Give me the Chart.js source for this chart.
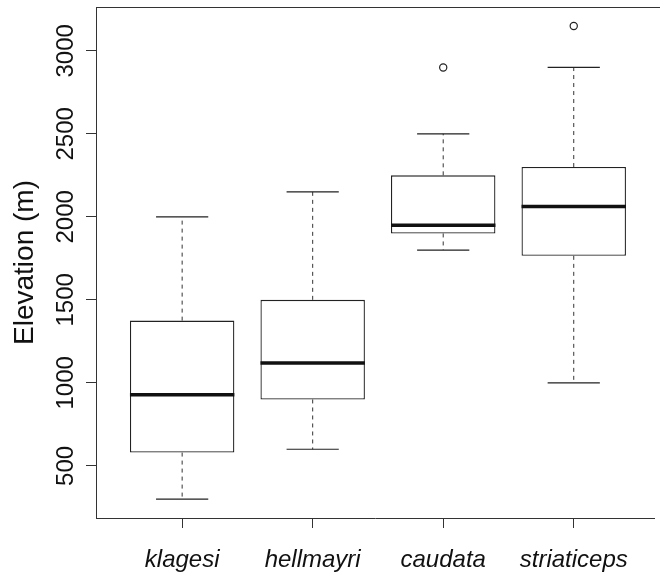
<!DOCTYPE html>
<html>
<head>
<meta charset="utf-8">
<script src="https://cdn.jsdelivr.net/npm/chart.js@4.4.1/dist/chart.umd.min.js"></script>
<style>
  html, body { margin: 0; padding: 0; background: #fff; overflow: hidden; }
  #wrap { width: 660px; height: 573px; position: relative; }
  #chart { display: block; }
</style>
</head>
<body>
<div id="wrap"><canvas id="chart"></canvas></div>
<script>
// Five-number summaries per species
const species = ['klagesi', 'hellmayri', 'caudata', 'striaticeps'];
const whiskerLow = [300, 600, 1800, 1000];
const quartile1 = [580, 900, 1900, 1765];
const medians = [928, 1120, 1950, 2062];
const quartile3 = [1375, 1500, 2250, 2300];
const whiskerHigh = [2000, 2150, 2500, 2900];
const outliers = [[], [], [2900], [3150]];
const yTicks = [500, 1000, 1500, 2000, 2500, 3000];
const yTitle = 'Elevation (m)';

const FONT = '"Liberation Sans", Arial, Helvetica, sans-serif';
const INK = '#222';

const boxplotPlugin = {
    id: 'boxplot',
    afterDatasetsDraw(chart) {
        const { ctx, chartArea, scales: { x, y } } = chart;
        ctx.save();

        // top frame line (R draws a full box)
        ctx.strokeStyle = '#333';
        ctx.lineWidth = 1;
        ctx.beginPath();
        ctx.moveTo(chartArea.left, Math.round(chartArea.top) + 0.5);
        ctx.lineTo(chart.width, Math.round(chartArea.top) + 0.5);
        ctx.stroke();

        species.forEach((name, i) => {
            const cx = x.getPixelForValue(i + 1);
            const capL = x.getPixelForValue(i + 1 - 0.2);
            const capR = x.getPixelForValue(i + 1 + 0.2);
            const boxL = x.getPixelForValue(i + 1 - 0.4);
            const boxR = x.getPixelForValue(i + 1 + 0.4);

            // dashed whiskers
            ctx.strokeStyle = '#333';
            ctx.lineWidth = 1;
            ctx.setLineDash([4, 4]);
            ctx.beginPath();
            ctx.moveTo(cx, y.getPixelForValue(quartile3[i]));
            ctx.lineTo(cx, y.getPixelForValue(whiskerHigh[i]));
            ctx.moveTo(cx, y.getPixelForValue(quartile1[i]));
            ctx.lineTo(cx, y.getPixelForValue(whiskerLow[i]));
            ctx.stroke();
            ctx.setLineDash([]);

            // staples
            ctx.strokeStyle = INK;
            ctx.lineWidth = 1.2;
            ctx.beginPath();
            ctx.moveTo(capL, y.getPixelForValue(whiskerHigh[i]));
            ctx.lineTo(capR, y.getPixelForValue(whiskerHigh[i]));
            ctx.moveTo(capL, y.getPixelForValue(whiskerLow[i]));
            ctx.lineTo(capR, y.getPixelForValue(whiskerLow[i]));
            ctx.stroke();

            // median
            ctx.strokeStyle = '#111';
            ctx.lineWidth = 3.5;
            ctx.beginPath();
            ctx.moveTo(boxL, y.getPixelForValue(medians[i]));
            ctx.lineTo(boxR, y.getPixelForValue(medians[i]));
            ctx.stroke();
        });
        ctx.restore();
    },
    afterDraw(chart) {
        const { ctx, chartArea, scales: { x, y } } = chart;
        ctx.save();
        ctx.fillStyle = '#111';

        // rotated y tick labels
        ctx.font = '24px ' + FONT;
        ctx.textAlign = 'center';
        ctx.textBaseline = 'alphabetic';
        yTicks.forEach(v => {
            ctx.save();
            ctx.translate(73, y.getPixelForValue(v));
            ctx.rotate(-Math.PI / 2);
            ctx.fillText(String(v), 0, 0);
            ctx.restore();
        });

        // y axis title
        ctx.font = '28px ' + FONT;
        ctx.save();
        ctx.translate(33, (chartArea.top + chartArea.bottom) / 2);
        ctx.rotate(-Math.PI / 2);
        ctx.fillText(yTitle, 0, 0);
        ctx.restore();

        // italic species names
        ctx.font = 'italic 24px ' + FONT;
        species.forEach((name, i) => {
            ctx.fillText(name, x.getPixelForValue(i + 1), 567);
        });
        ctx.restore();
    }
};

const ctx = document.getElementById('chart').getContext('2d');

new Chart(ctx, {
    type: 'bar',
    data: {
        datasets: [{
            label: 'IQR',
            data: species.map((s, i) => ({ x: i + 1, y: [quartile1[i], quartile3[i]] })),
            backgroundColor: '#fff',
            borderColor: INK,
            borderWidth: 1.3,
            borderSkipped: false,
            categoryPercentage: 0.8,
            barPercentage: 1,
        }, {
            type: 'scatter',
            label: 'Outliers',
            data: outliers.flatMap((vals, i) => vals.map(v => ({ x: i + 1, y: v }))),
            pointStyle: 'circle',
            pointRadius: 3.6,
            pointBorderWidth: 1.2,
            pointBorderColor: INK,
            pointBackgroundColor: 'rgba(0,0,0,0)',
        }]
    },
    options: {
        animation: false,
        responsive: true,
        maintainAspectRatio: false,
        layout: {
            padding: { top: 7, right: 0, bottom: 0, left: 0 },
        },
        plugins: {
            legend: { display: false },
            tooltip: { enabled: false },
        },
        scales: {
            x: {
                type: 'linear',
                min: 0.34,
                max: 4.621,
                offset: false,
                afterBuildTicks: (scale) => {
                    scale.ticks = species.map((s, i) => ({ value: i + 1 }));
                },
                afterFit: (scale) => {
                    scale.height = 55;
                    scale.paddingLeft = 0;
                    scale.paddingRight = 0;
                },
                ticks: { display: false },
                grid: {
                    display: true,
                    offset: false,
                    drawOnChartArea: false,
                    drawTicks: true,
                    tickLength: 10,
                    color: '#333',
                },
                border: { display: true, color: '#333', width: 1 },
            },
            y: {
                type: 'linear',
                min: 186,
                max: 3264,
                beginAtZero: false,
                afterBuildTicks: (scale) => {
                    scale.ticks = yTicks.map(v => ({ value: v }));
                },
                afterFit: (scale) => {
                    scale.width = 96;
                    scale.paddingTop = 0;
                    scale.paddingBottom = 0;
                },
                ticks: { display: false },
                grid: {
                    display: true,
                    drawOnChartArea: false,
                    drawTicks: true,
                    tickLength: 10,
                    color: '#333',
                },
                border: { display: true, color: '#333', width: 1 },
            },
        },
    },
    plugins: [boxplotPlugin],
});
</script>
</body>
</html>
